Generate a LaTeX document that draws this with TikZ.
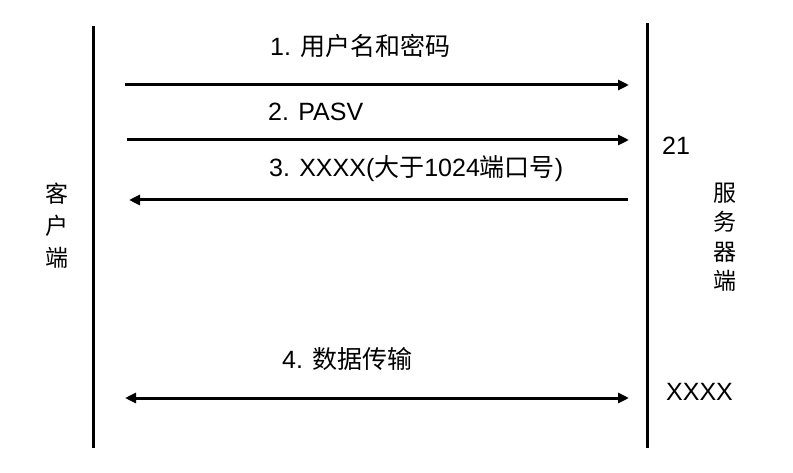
\documentclass[tikz,border=0pt]{standalone}
\usepackage{fontspec}
\setmainfont{Liberation Sans}
\newfontfamily\cjk{Noto Sans CJK SC}
\usetikzlibrary{arrows.meta}
\newcommand{\zh}[1]{{\cjk #1}}
\begin{document}
\begin{tikzpicture}[x=1pt,y=-1pt,
  vline/.style={line width=3pt},
  msg/.style={line width=3pt,-{Triangle[length=11pt,width=10pt]}},
  both/.style={line width=3pt,{Triangle[length=11pt,width=10pt]}-{Triangle[length=11pt,width=10pt]}},
  lbl/.style={anchor=west,inner sep=0pt,font=\fontsize{25}{30}\selectfont},
  side/.style={inner sep=0pt,align=center}]
\useasboundingbox (0,0) rectangle (793,473);
% lifelines
\coordinate (lt) at (93,26);
\coordinate (lb) at (93,448);
\coordinate (rt) at (647,23);
\coordinate (rb) at (647,448);
\draw[vline] (lt) -- (lb);
\draw[vline] (rt) -- (rb);
% arrow end points
\coordinate (a1s) at (125,85);
\coordinate (a1e) at (629,85);
\coordinate (a2s) at (127,140);
\coordinate (a2e) at (629,140);
\coordinate (a3s) at (628,200);
\coordinate (a3e) at (129,200);
\coordinate (a4s) at (125,398);
\coordinate (a4e) at (629,398);
\draw[msg] (a1s) -- (a1e);
\draw[msg] (a2s) -- (a2e);
\draw[msg] (a3s) -- (a3e);
\draw[both] (a4s) -- (a4e);
% labels
\node[lbl] (t1) at (270,46) {1. \zh{用户名和密码}};
\node[lbl] (t2) at (268,112) {2. PASV};
\node[lbl] (t3) at (269,169) {3. XXXX(\zh{大于}1024\zh{端口号})};
\node[lbl] (t4) at (282,359) {4. \zh{数据传输}};
\node[lbl] (p21) at (662,146) {21};
\node[lbl] (pxx) at (666,392) {XXXX};
% side labels
\node[side,font=\fontsize{23}{32}\cjk] (client) at (57,226) {客\\户\\端};
\node[side,font=\fontsize{23}{29.5}\cjk] (server) at (725,237) {服\\务\\器\\端};
\end{tikzpicture}
\end{document}
